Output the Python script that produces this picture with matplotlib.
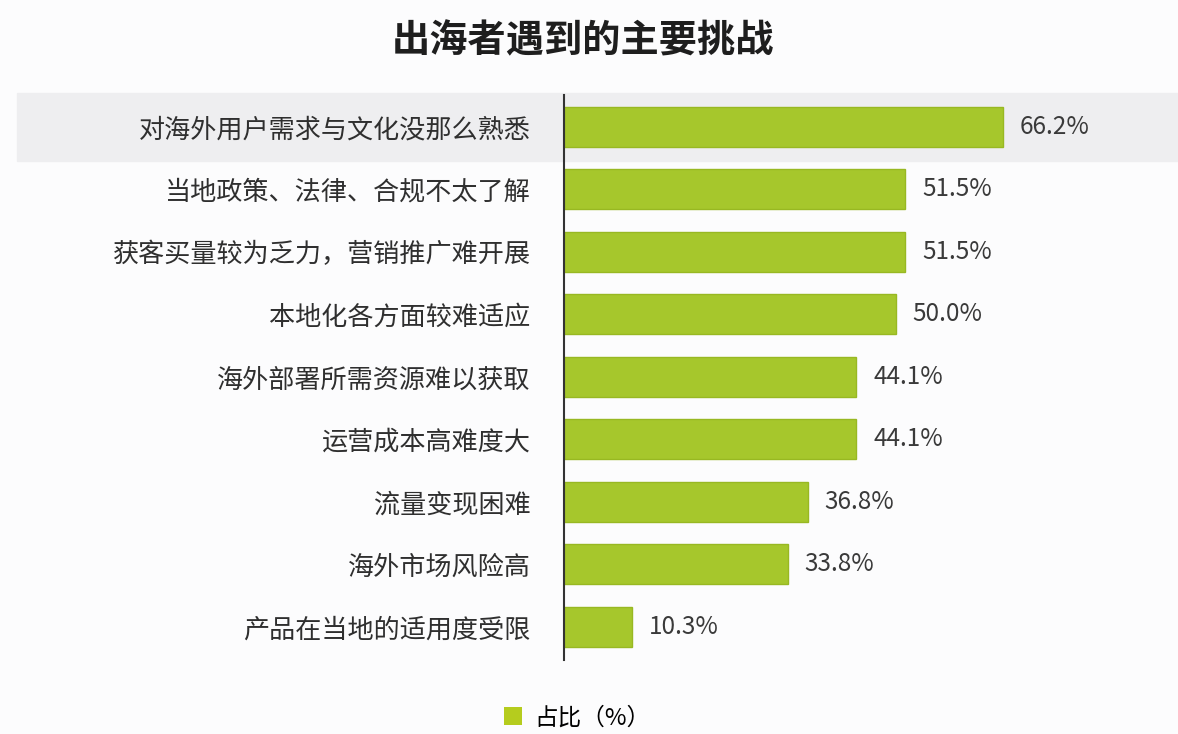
import matplotlib.pyplot as plt
from matplotlib.patches import Rectangle, Patch
from matplotlib.transforms import blended_transform_factory

plt.rcParams['font.family'] = ['Noto Sans CJK SC', 'DejaVu Sans']

categories = ["对海外用户需求与文化没那么熟悉", "当地政策、法律、合规不太了解",
              "获客买量较为乏力，营销推广难开展", "本地化各方面较难适应",
              "海外部署所需资源难以获取", "运营成本高难度大", "流量变现困难",
              "海外市场风险高", "产品在当地的适用度受限"]
values = [66.2, 51.5, 51.5, 50.0, 44.1, 44.1, 36.8, 33.8, 10.3]

bar_color = '#a6c72c'

fig = plt.figure(figsize=(11.78, 7.34), dpi=100, facecolor='#fcfcfd')
ax = fig.add_axes([0.4788, 0.1008, 0.5212, 0.7698])
ax.set_facecolor('none')

ypos = list(range(len(categories)))
ax.barh(ypos, values, height=0.64, color=bar_color, edgecolor='#98b822', linewidth=1)
ax.set_xlim(0, 92.6)
ax.set_ylim(8.53, -0.51)

for y, v in zip(ypos, values):
    ax.text(v + 2.5, y, f'{v:.1f}%', va='center', ha='left', fontsize=17.5, color='#3a3a3a')

ax.set_yticks(ypos)
ax.set_yticklabels(categories, fontsize=18.8, color='#2f2f2f')
ax.tick_params(axis='y', length=0, pad=24)
ax.set_xticks([])
for s in ['top', 'right', 'bottom']:
    ax.spines[s].set_visible(False)
ax.spines['left'].set_color('#333333')
ax.spines['left'].set_linewidth(1.5)

# highlight band behind the first row
tr = blended_transform_factory(fig.transFigure, ax.transData)
band = Rectangle((0.0144, -0.54), 1.0, 1.08, transform=tr, color='#eeeef0',
                 zorder=-1, clip_on=False)
fig.patches.append(band)
band.set_figure(fig)

fig.text(0.495, 0.945, '出海者遇到的主要挑战', ha='center', va='center',
         fontsize=27.5, fontweight='bold', color='#1e1e1e')

fig.legend(handles=[Patch(facecolor='#b5cc1e', edgecolor='none', label='占比（%）')],
           loc='center', bbox_to_anchor=(0.49, 0.022), frameon=False,
           fontsize=17, handlelength=0.75, handleheight=0.75, handletextpad=0.5)

fig.savefig('out.png', dpi=100, facecolor=fig.get_facecolor())
